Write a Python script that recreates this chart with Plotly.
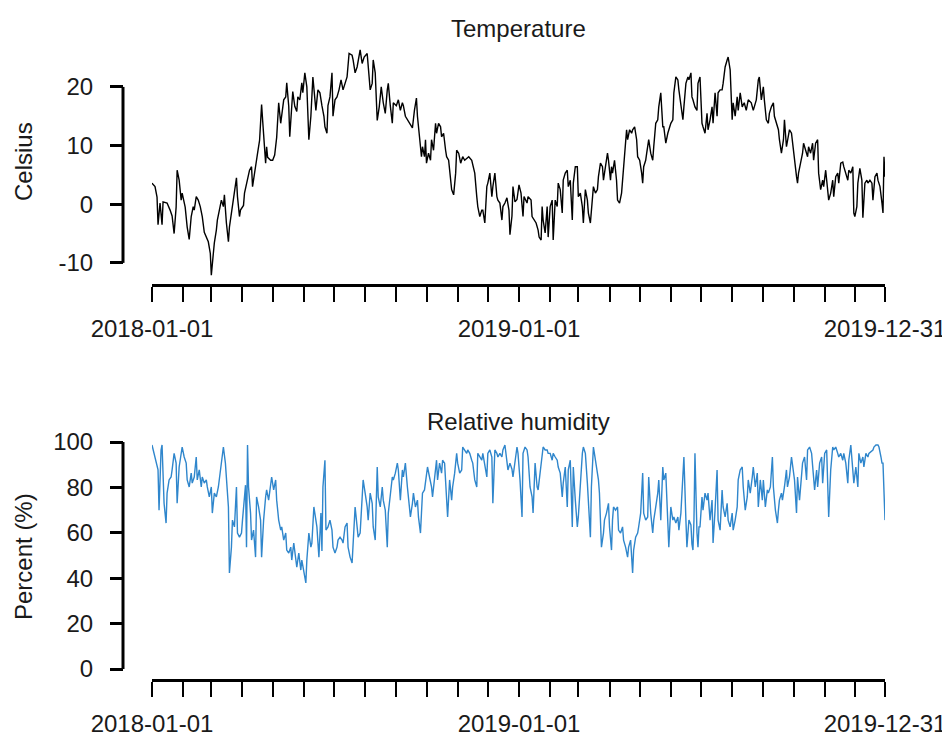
import pandas as pd
import plotly.graph_objects as go

# ---------------- data ----------------
start_date = "2018-01-01"
end_date = "2019-12-31"

temp_day = [
    0, 3, 5, 6, 8, 10, 11, 15, 18, 20,
    22, 24, 25, 27, 29, 30, 33, 35, 37, 39,
    41, 42, 44, 46, 48, 50, 52, 54, 56, 58,
    59, 61, 62, 64, 65, 67, 69, 71, 72, 74,
    76, 77, 79, 81, 83, 84, 85, 87, 88, 90,
    91, 92, 94, 95, 97, 99, 100, 102, 104, 105,
    107, 109, 110, 111, 113, 114, 115, 118, 120, 122,
    124, 125, 126, 128, 130, 131, 133, 134, 136, 137,
    139, 140, 142, 144, 145, 147, 149, 150, 152, 154,
    156, 158, 160, 161, 163, 165, 167, 169, 171, 172,
    174, 175, 177, 179, 180, 182, 184, 186, 188, 190,
    192, 194, 196, 199, 200, 202, 204, 207, 209, 211,
    214, 215, 217, 219, 220, 222, 224, 226, 228, 230,
    232, 234, 235, 237, 239, 240, 243, 245, 247, 249,
    250, 252, 254, 256, 259, 261, 263, 264, 266, 268,
    269, 271, 272, 273, 275, 277, 278, 280, 282, 283,
    285, 287, 288, 290, 292, 293, 295, 297, 298, 300,
    302, 303, 305, 307, 309, 311, 313, 315, 318, 319,
    321, 323, 324, 326, 328, 329, 331, 333, 334, 336,
    338, 339, 341, 343, 344, 346, 348, 349, 351, 353,
    355, 356, 358, 359, 361, 363, 365, 367, 369, 370,
    373, 374, 377, 378, 380, 382, 384, 385, 387, 388,
    389, 391, 393, 394, 396, 398, 399, 401, 403, 404,
    406, 408, 409, 411, 413, 414, 416, 418, 419, 421,
    423, 424, 426, 428, 429, 431, 433, 434, 436, 438,
    439, 441, 443, 444, 446, 448, 449, 451, 453, 454,
    456, 457, 458, 460, 462, 463, 465, 467, 468, 470,
    472, 473, 475, 477, 478, 480, 482, 483, 485, 487,
    488, 489, 491, 492, 494, 496, 498, 499, 501, 503,
    504, 506, 508, 509, 511, 513, 514, 516, 518, 519,
    521, 523, 524, 526, 528, 529, 531, 533, 534, 536,
    537, 538, 540, 542, 543, 545, 547, 548, 550, 552,
    553, 555, 557, 558, 560, 562, 563, 565, 567, 568,
    570, 572, 573, 575, 577, 578, 580, 582, 583, 585,
    587, 589, 591, 593, 596, 598, 599, 601, 603, 604,
    606, 608, 609, 611, 613, 614, 616, 618, 619, 621,
    623, 624, 626, 628, 629, 631, 632, 634, 636, 638,
    639, 641, 642, 643, 645, 647, 648, 650, 652, 653,
    655, 657, 658, 660, 662, 663, 665, 667, 668, 670,
    672, 673, 675, 677, 678, 680, 682, 683, 685, 687,
    688, 690, 692, 693, 695, 697, 698, 699, 701, 702,
    704, 706, 707, 709, 711, 712, 714, 716, 717, 719,
    721, 722, 724, 726, 727, 728, 729,
]
temp_c = [
    3.6, 3.0, 1.2, -3.5, 0.2, -3.5, 0.4, 0.2, -1.0, -2.0,
    -5.0, -0.5, 5.8, 4.1, 0.7, 1.9, -0.5, -3.9, -6.0, -2.1,
    -0.4, -1.0, 1.3, 0.7, -0.4, -2.1, -4.8, -5.6, -6.4, -8.4,
    -12.1, -8.4, -6.6, -4.4, -2.7, -1.0, 0.7, -0.4, 1.6, -3.2,
    -6.4, -3.9, -1.5, 1.3, 3.0, 4.5, 1.3, -2.1, -1.0, -0.5,
    -0.2, 1.9, 3.6, 4.1, 5.8, 6.4, 3.0, 5.3, 8.0, 8.7,
    10.9, 17.0, 14.4, 11.5, 7.0, 9.8, 8.0, 7.5, 7.5, 8.4,
    11.4, 14.4, 17.3, 13.8, 16.0, 17.8, 18.3, 20.7, 16.7, 11.5,
    16.7, 19.2, 16.7, 15.8, 18.3, 17.8, 20.7, 19.0, 22.4, 20.0,
    11.0, 15.0, 21.7, 20.0, 16.0, 19.5, 19.0, 16.8, 15.0, 13.2,
    12.1, 16.8, 18.3, 22.4, 15.0, 17.8, 18.3, 19.5, 21.2, 19.5,
    20.6, 21.7, 25.7, 25.4, 24.6, 22.4, 23.4, 26.3, 24.0, 25.1,
    25.7, 24.0, 19.5, 20.6, 24.6, 22.4, 14.3, 16.6, 20.0, 17.3,
    15.5, 19.5, 20.6, 16.8, 13.8, 17.3, 16.8, 17.8, 16.0, 17.3,
    16.8, 15.0, 14.4, 13.8, 13.0, 16.0, 18.1, 15.0, 11.0, 8.1,
    9.8, 8.1, 11.0, 7.0, 8.7, 7.5, 11.0, 9.2, 13.8, 12.1,
    13.8, 13.2, 11.5, 12.1, 9.2, 8.1, 7.5, 4.2, 2.5, 1.6,
    5.3, 9.2, 8.7, 7.0, 8.1, 7.5, 7.8, 8.1, 7.5, 6.7,
    5.3, 1.3, -0.4, -2.1, -1.0, -1.0, -3.2, 3.0, 3.6, 5.3,
    1.3, 3.0, 5.3, 1.3, 0.7, 0.2, -2.7, -0.4, 0.2, 1.1,
    -1.0, -5.2, -2.0, 3.0, 0.4, 0.8, 3.3, 1.9, -2.1, 1.3,
    0.2, 1.3, 0.7, -2.1, -2.7, -3.2, -4.4, -5.6, -6.1, -0.4,
    -2.7, -4.9, -0.4, -5.6, -0.4, 0.7, -6.1, 0.7, -0.4, 3.6,
    2.5, -1.5, 4.1, 5.3, 5.8, 3.0, 4.1, -2.7, 3.6, 6.4,
    6.4, 1.3, 1.9, -0.4, -3.2, 2.5, 0.7, -1.5, -3.2, 1.9,
    3.0, 1.9, 2.5, 4.7, 7.0, 6.4, 4.1, 6.4, 8.7, 7.5,
    4.1, 6.4, 5.3, 7.5, 4.1, 0.7, 0.2, 1.9, 4.1, 7.0,
    12.7, 11.0, 12.7, 12.1, 12.7, 13.2, 11.0, 8.1, 7.5, 5.3,
    3.6, 6.4, 7.5, 8.7, 11.0, 8.7, 7.5, 9.8, 13.8, 14.4,
    16.6, 19.0, 13.2, 13.2, 10.4, 12.1, 12.7, 13.8, 14.4, 19.0,
    21.7, 21.2, 19.5, 16.6, 14.4, 16.6, 20.6, 21.7, 21.2, 22.4,
    18.3, 17.8, 16.6, 16.0, 20.6, 21.7, 13.8, 13.2, 12.1, 15.5,
    12.7, 14.4, 16.6, 13.8, 19.0, 15.0, 19.0, 19.5, 19.5, 20.6,
    23.4, 24.6, 25.1, 22.9, 14.4, 17.3, 15.0, 18.3, 16.0, 19.0,
    16.6, 17.3, 16.0, 17.8, 17.3, 16.0, 16.6, 17.8, 21.2, 21.7,
    17.8, 20.0, 17.8, 14.4, 13.8, 15.5, 16.6, 17.3, 15.0, 13.8,
    12.7, 11.0, 8.7, 11.0, 14.4, 9.8, 11.0, 12.7, 12.1, 8.7,
    7.0, 4.7, 3.6, 5.3, 7.0, 8.7, 10.4, 9.2, 8.1, 9.8,
    8.7, 10.4, 7.5, 10.4, 11.0, 5.3, 2.5, 4.1, 3.0, 5.8,
    3.0, 0.7, 1.9, 4.1, 1.3, 4.7, 5.3, 3.6, 7.0, 7.2,
    6.4, 5.3, 4.1, 5.8, 5.3, 6.4, -1.5, -2.1, -0.4, 3.6,
    6.1, 4.1, -2.3, 3.6, 4.1, 3.6, 4.1, 3.6, 0.7, 4.7,
    5.3, 4.1, 3.0, 0.2, -1.5, 8.1, 4.7,
]

hum_day = [
    0, 3, 5, 6, 7, 9, 10, 12, 14, 15,
    17, 19, 20, 22, 24, 25, 27, 29, 30, 32,
    34, 35, 37, 39, 40, 42, 44, 45, 47, 49,
    50, 52, 54, 55, 57, 59, 60, 62, 64, 66,
    68, 70, 71, 73, 75, 76, 77, 79, 80, 82,
    84, 85, 87, 89, 90, 91, 93, 94, 95, 96,
    98, 99, 101, 103, 104, 106, 108, 109, 111, 113,
    114, 116, 118, 119, 121, 123, 124, 126, 128, 129,
    131, 133, 134, 136, 138, 139, 141, 143, 144, 146,
    148, 149, 151, 153, 154, 156, 158, 159, 161, 163,
    164, 166, 168, 169, 170, 172, 173, 175, 177, 179,
    180, 182, 184, 185, 187, 189, 190, 192, 194, 195,
    197, 199, 200, 202, 204, 205, 207, 209, 210, 212,
    214, 215, 217, 219, 220, 222, 224, 225, 227, 229,
    230, 232, 234, 235, 237, 239, 240, 242, 244, 245,
    247, 249, 250, 252, 254, 255, 257, 259, 260, 262,
    264, 265, 267, 268, 269, 271, 273, 274, 276, 278,
    279, 281, 283, 284, 286, 288, 289, 291, 293, 294,
    296, 298, 299, 301, 303, 304, 306, 308, 309, 311,
    313, 314, 316, 318, 319, 321, 323, 324, 326, 328,
    329, 331, 333, 334, 336, 338, 339, 341, 343, 344,
    346, 348, 349, 351, 353, 354, 356, 358, 359, 361,
    363, 364, 366, 368, 369, 371, 373, 374, 376, 378,
    379, 381, 383, 384, 386, 388, 389, 391, 393, 394,
    396, 398, 399, 401, 403, 404, 406, 408, 409, 411,
    413, 414, 416, 418, 419, 421, 423, 424, 426, 428,
    429, 431, 433, 434, 436, 437, 439, 440, 442, 444,
    445, 447, 449, 450, 452, 454, 455, 457, 458, 459,
    461, 463, 464, 466, 468, 469, 471, 473, 474, 476,
    478, 479, 481, 483, 484, 486, 488, 489, 491, 493,
    494, 496, 498, 499, 501, 503, 504, 506, 508, 509,
    511, 513, 514, 516, 518, 519, 521, 523, 524, 526,
    528, 529, 531, 532, 534, 536, 537, 538, 539, 540,
    542, 543, 544, 545, 547, 548, 550, 552, 553, 555,
    557, 558, 560, 562, 563, 565, 567, 568, 570, 572,
    573, 575, 577, 578, 580, 582, 583, 585, 587, 588,
    590, 592, 593, 595, 597, 598, 600, 602, 603, 605,
    607, 608, 610, 612, 613, 615, 617, 618, 620, 622,
    623, 624, 626, 627, 629, 631, 632, 634, 636, 637,
    639, 641, 642, 644, 646, 647, 649, 651, 652, 654,
    656, 657, 659, 661, 662, 664, 666, 667, 669, 671,
    672, 673, 675, 677, 678, 680, 682, 683, 685, 687,
    688, 690, 692, 693, 695, 697, 698, 700, 702, 703,
    705, 707, 708, 710, 712, 713, 715, 717, 718, 720,
    722, 723, 725, 726, 727, 728, 729,
]
hum_pct = [
    98.7, 93.4, 89.0, 87.7, 70.0, 96.5, 98.7, 73.0, 64.3, 77.5,
    83.3, 84.6, 87.7, 95.0, 90.7, 73.0, 89.0, 96.5, 97.8, 93.4,
    90.7, 83.3, 80.2, 86.3, 81.9, 84.6, 93.4, 83.3, 87.7, 80.2,
    84.6, 81.9, 83.3, 80.2, 75.8, 80.2, 68.7, 77.5, 75.8, 80.2,
    87.7, 96.5, 97.8, 90.7, 75.8, 71.4, 42.3, 53.7, 65.6, 62.6,
    80.2, 59.9, 58.1, 59.9, 65.6, 70.0, 81.0, 53.7, 98.7, 80.2,
    68.7, 56.8, 61.2, 49.3, 75.8, 71.4, 65.6, 49.3, 65.6, 75.8,
    78.9, 74.4, 81.9, 84.6, 78.9, 83.3, 74.4, 65.6, 61.2, 62.6,
    56.8, 59.9, 52.4, 51.1, 53.7, 48.0, 55.5, 48.0, 44.9, 51.1,
    43.6, 48.0, 42.3, 37.9, 48.0, 59.9, 53.7, 55.5, 71.4, 65.6,
    62.6, 49.3, 68.7, 52.0, 80.2, 92.0, 61.2, 62.6, 65.6, 61.2,
    53.7, 51.1, 53.7, 56.8, 58.1, 56.8, 55.5, 62.6, 64.3, 53.7,
    49.3, 46.7, 53.7, 71.4, 62.6, 58.1, 59.9, 73.0, 83.3, 77.5,
    71.4, 65.6, 77.5, 73.0, 62.6, 56.8, 89.0, 75.8, 71.4, 80.2,
    74.4, 70.0, 53.7, 68.7, 75.8, 84.6, 83.3, 86.3, 90.7, 87.7,
    74.4, 87.7, 84.6, 90.7, 80.2, 74.4, 67.0, 73.0, 77.5, 71.4,
    74.4, 67.0, 59.9, 68.7, 77.5, 78.9, 86.3, 89.0, 84.6, 80.2,
    75.8, 84.6, 92.0, 83.3, 90.7, 86.3, 92.0, 90.7, 77.5, 67.0,
    83.3, 74.4, 80.2, 86.3, 95.0, 90.7, 86.3, 87.7, 97.8, 96.5,
    95.0, 96.5, 95.0, 92.0, 90.7, 83.3, 80.2, 95.0, 93.4, 92.0,
    95.0, 89.0, 84.6, 95.0, 96.5, 93.4, 73.0, 96.5, 95.0, 93.4,
    95.0, 93.4, 96.5, 98.7, 92.0, 87.7, 90.7, 88.0, 84.6, 92.0,
    97.8, 95.0, 83.3, 67.0, 95.0, 97.8, 96.5, 93.4, 80.2, 75.8,
    68.7, 90.7, 80.2, 78.9, 86.3, 93.4, 97.8, 96.5, 96.5, 95.0,
    95.0, 92.0, 95.0, 93.4, 92.0, 89.0, 86.3, 75.8, 81.9, 89.0,
    71.4, 87.7, 92.0, 62.6, 89.0, 74.4, 62.6, 67.0, 81.9, 95.0,
    97.8, 95.0, 81.9, 71.4, 58.1, 80.2, 97.8, 95.0, 89.0, 83.3,
    77.5, 53.7, 59.9, 65.6, 68.7, 73.0, 62.6, 52.4, 65.6, 71.4,
    70.0, 71.4, 61.2, 59.9, 62.6, 56.8, 53.7, 49.3, 53.7, 56.8,
    42.3, 52.4, 58.1, 59.9, 62.6, 68.7, 86.3, 68.7, 65.6, 67.0,
    84.6, 68.7, 59.9, 65.6, 71.4, 77.5, 83.3, 65.6, 89.0, 83.3,
    86.3, 65.6, 53.7, 71.4, 65.6, 67.0, 64.3, 67.0, 61.2, 68.7,
    86.3, 93.4, 65.6, 53.7, 65.6, 63.5, 55.0, 52.4, 65.6, 95.0,
    60.0, 53.7, 62.6, 62.6, 75.8, 70.0, 77.5, 74.4, 77.5, 65.6,
    74.4, 55.5, 70.0, 87.7, 65.6, 61.2, 78.9, 71.4, 67.0, 73.0,
    65.6, 62.6, 68.7, 61.2, 65.6, 71.4, 83.3, 87.7, 89.0, 80.2,
    70.0, 75.8, 83.3, 77.5, 84.6, 89.0, 80.2, 86.3, 71.4, 83.3,
    74.4, 83.3, 71.4, 78.9, 77.5, 80.2, 93.4, 80.2, 70.0, 64.3,
    70.0, 74.4, 77.5, 74.4, 80.2, 87.7, 80.2, 84.6, 93.4, 90.7,
    83.3, 68.7, 84.6, 74.4, 87.7, 90.7, 93.4, 83.3, 96.5, 97.8,
    95.0, 90.7, 78.9, 87.7, 80.2, 90.7, 93.4, 81.9, 95.0, 96.5,
    84.6, 67.0, 87.7, 97.8, 96.5, 97.8, 95.0, 93.4, 95.0, 92.0,
    95.0, 90.7, 81.9, 92.0, 98.7, 86.3, 81.9, 89.0, 80.2, 95.0,
    90.7, 93.4, 89.0, 95.0, 93.4, 95.0, 95.6, 96.5, 97.8, 98.7,
    98.7, 97.8, 93.4, 90.7, 90.7, 74.4, 65.6,
]

temp_ticks = [-10, 0, 10, 20]
hum_ticks = [0, 20, 40, 60, 80, 100]
x_tick_dates = [d.strftime("%Y-%m-%d") for d in pd.date_range("2018-01-01", "2019-12-01", freq="MS")] + [end_date]
x_tick_labelled = {"2018-01-01", "2019-01-01", "2019-12-31"}
x_tick_text = [d if d in x_tick_labelled else "" for d in x_tick_dates]

titles = ["Temperature", "Relative humidity"]
ylabels = ["Celsius", "Percent (%)"]

# ---------------- figure ----------------
t0 = pd.Timestamp(start_date)
temp_dates = t0 + pd.to_timedelta(temp_day, unit="D")
hum_dates = t0 + pd.to_timedelta(hum_day, unit="D")

# the page body adds an 8px margin, so the figure is drawn 8px in from the window
OFF = 8
W, H = 950 - OFF, 737 - OFF
FONT = "Liberation Sans, Arial, sans-serif"
TXT = "#1a1a1a"

def px(x):
    return (x - OFF) / W

def py(y):
    return 1 - (y - OFF) / H

fig = go.Figure()
fig.add_trace(go.Scatter(x=temp_dates, y=temp_c, mode="lines",
                         line=dict(color="black", width=1.4),
                         xaxis="x", yaxis="y", hoverinfo="x+y"))
fig.add_trace(go.Scatter(x=hum_dates, y=hum_pct, mode="lines",
                         line=dict(color="#2f86cc", width=1.4),
                         xaxis="x2", yaxis="y2", hoverinfo="x+y"))

xdom = [px(152), px(885)]
xcommon = dict(
    type="date", range=[start_date, end_date], tickmode="array",
    tickvals=x_tick_dates, ticktext=x_tick_text, ticks="outside",
    ticklen=15, tickwidth=2, tickcolor="black", showline=True,
    linewidth=3, linecolor="black", showgrid=False, zeroline=False,
    tickfont=dict(family=FONT, size=24, color=TXT), ticklabelstandoff=6,
    domain=xdom, automargin=False,
)
ycommon = dict(
    anchor="free", position=px(123), ticks="outside", ticklen=13,
    tickwidth=2.5, tickcolor="black", showline=False, showgrid=False,
    zeroline=False, tickfont=dict(family=FONT, size=24, color=TXT),
    ticklabelstandoff=12, tickmode="array", automargin=False,
)

fig.update_layout(
    template="none",
    width=W, height=H, margin=dict(l=0, r=0, t=0, b=0, pad=0),
    autosize=False,
    paper_bgcolor="white", plot_bgcolor="white", showlegend=False,
    xaxis=dict(anchor="y", **xcommon),
    xaxis2=dict(anchor="y2", **xcommon),
    yaxis=dict(domain=[py(284), py(40)], range=[-13.6, 28.0],
               tickvals=temp_ticks, ticktext=[str(v) for v in temp_ticks], **ycommon),
    yaxis2=dict(domain=[py(679), py(430)], range=[-4.4, 105.3],
                tickvals=hum_ticks, ticktext=[str(v) for v in hum_ticks], **ycommon),
)

# R-style y axis lines spanning only the tick range
for yref, ticks in (("y", temp_ticks), ("y2", hum_ticks)):
    fig.add_shape(type="line", xref="paper", yref=yref,
                  x0=px(123), x1=px(123), y0=min(ticks), y1=max(ticks),
                  line=dict(color="black", width=3))

# panel titles and axis labels
for title, ytitle, ty, ly in ((titles[0], ylabels[0], 28, 162),
                              (titles[1], ylabels[1], 421, 557)):
    fig.add_annotation(text=title, xref="paper", yref="paper",
                       x=px(518), y=py(ty), showarrow=False,
                       xanchor="center", yanchor="middle",
                       font=dict(family=FONT, size=24, color=TXT))
    fig.add_annotation(text=ytitle, xref="paper", yref="paper",
                       x=px(23), y=py(ly), showarrow=False, textangle=-90,
                       xanchor="center", yanchor="middle",
                       font=dict(family=FONT, size=24, color=TXT))

fig.write_html("out.html")
